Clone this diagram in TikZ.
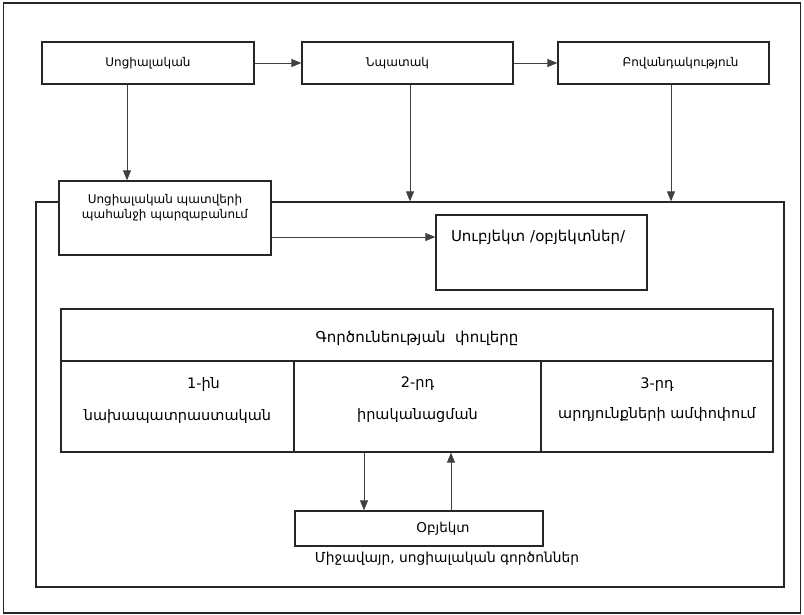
\documentclass[tikz,border=0pt]{standalone}
\usepackage{fontspec}
\setmainfont{DejaVu Sans}
\usetikzlibrary{arrows.meta}

\begin{document}
\begin{tikzpicture}[x=1pt,y=-1pt,
    box/.style={draw=black!85,line width=1.3pt,fill=white,inner sep=0pt,align=center,font=\fontsize{12}{15}\selectfont},
    cell/.style={box,minimum height=91pt,font=\fontsize{14.5}{17}\selectfont,text depth=16pt},
    arr/.style={draw=black!75,line width=0.9pt,-{Triangle[length=10pt,width=8pt]}}]
    \useasboundingbox (0,0) rectangle (804,615);
    \node [draw=black!85,line width=1.5pt,minimum width=797pt,minimum height=610pt] (page) at (402,308) {};
    \node [draw=black!85,line width=1.3pt,minimum width=748pt,minimum height=385pt] (env) at (410,394.5) {};
    % top row
    \node [box,minimum width=212pt,minimum height=42pt] (soc) at (148,63) {Սոցիալական};
    \node [box,minimum width=211pt,minimum height=42pt] (npatak) at (407.5,63) {Նպատակ\hspace*{20pt}};
    \node [box,minimum width=211pt,minimum height=42pt] (bov) at (663.5,63) {\hspace*{34pt}Բովանդակություն};
    \node [box,minimum width=212pt,minimum height=74pt,text depth=24pt] (pahanj) at (165,218) {Սոցիալական պատվերի\\պահանջի պարզաբանում};
    \node [box,minimum width=211pt,minimum height=75pt,text width=181pt,align=left,text depth=34pt,font=\fontsize{15}{18}\selectfont] (subj) at (541.5,252.5) {Սուբյեկտ /օբյեկտներ/};
    % phases
    \node [box,minimum width=712pt,minimum height=52pt,text height=18pt,font=\fontsize{15}{18}\selectfont] (head) at (417,335) {Գործունեության\ \ փուլերը};
    \node [cell,minimum width=233pt] (cell1) at (177.5,406.5) {\hspace*{52pt}1-ին\\[15pt]նախապատրաստական};
    \node [cell,minimum width=247pt] (cell2) at (417.5,406.5) {2-րդ\\[15pt]իրականացման};
    \node [cell,minimum width=232pt] (cell3) at (657,406.5) {3-րդ\\[13pt]արդյունքների ամփոփում};
    \node [box,minimum width=248pt,minimum height=35pt,font=\fontsize{13.5}{16}\selectfont] (obj) at (419,528.5) {\hspace*{48pt}Օբյեկտ};
    \node [font=\fontsize{13.8}{16}\selectfont] (envlabel) at (447,559) {Միջավայր, սոցիալական գործոններ};
    % arrows
    \draw [arr] (soc.east) -- (npatak.west);
    \draw [arr] (npatak.east) -- (bov.west);
    \draw [arr] ([xshift=-21pt]soc.south) -- ([xshift=-21pt]soc.south |- pahanj.north);
    \draw [arr] ([xshift=2.5pt]npatak.south) -- ([xshift=2.5pt]npatak.south |- env.north);
    \draw [arr] ([xshift=7.5pt]bov.south) -- ([xshift=7.5pt]bov.south |- env.north);
    \draw [arr] ([yshift=-19pt]pahanj.east) -- ([yshift=-19pt]pahanj.east -| subj.west);
    \draw [arr] ([xshift=-53.5pt]cell2.south) -- ([xshift=-53.5pt]cell2.south |- obj.north);
    \draw [arr] ([xshift=33.5pt]cell2.south |- obj.north) -- ([xshift=33.5pt]cell2.south);
\end{tikzpicture}
\end{document}
